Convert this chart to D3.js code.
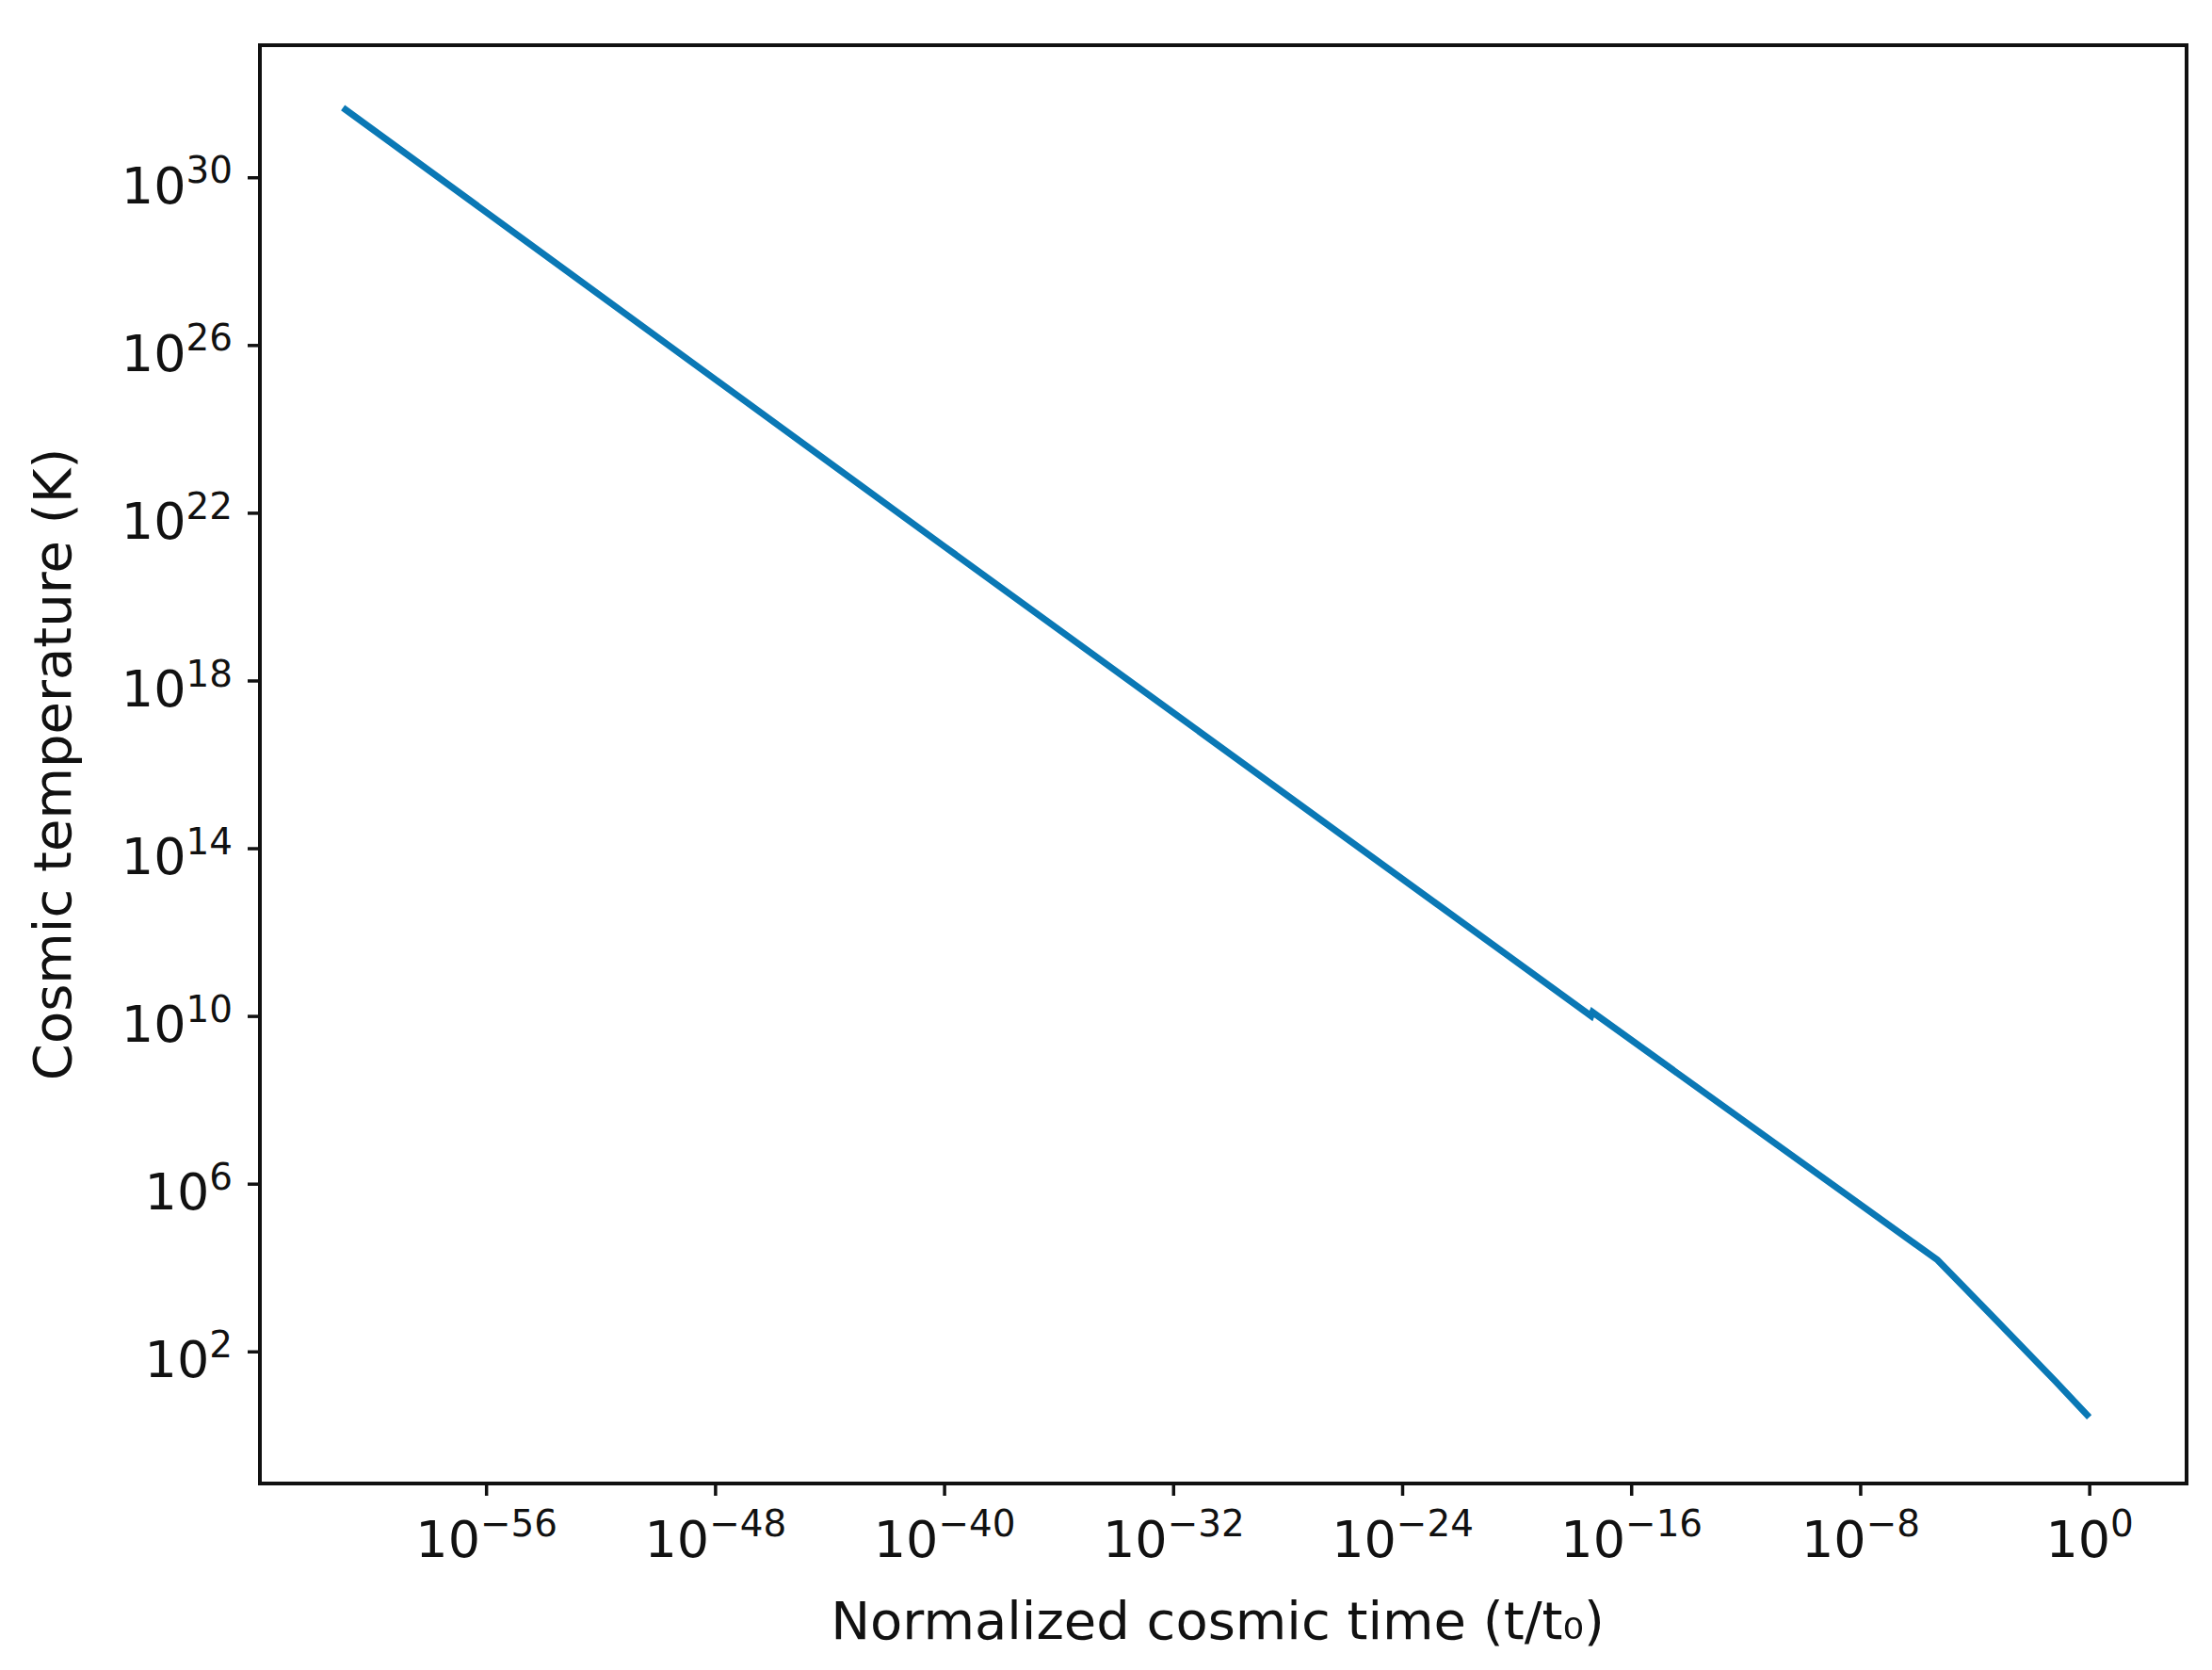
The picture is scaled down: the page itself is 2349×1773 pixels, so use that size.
<!DOCTYPE html><html><head><meta charset="utf-8"><script src="https://cdn.jsdelivr.net/npm/d3@7"></script>
<style>body{margin:0;background:#fff}text{font-family:"DejaVu Sans";fill:#111}</style></head><body><svg id="c" width="2349" height="1773"></svg><script>
const timeExp=[-61.0,-40,-17.4,-17.35,-5.3,-3.5,-1.2,0];
const tempExp=[31.66,21.2,10.0,10.09,4.18,2.92,1.3,0.43];
const xTickExp=[-56,-48,-40,-32,-24,-16,-8,0];
const yTickExp=[2,6,10,14,18,22,26,30];
const L=276,R=2322,T=48,B=1575;
const svg=d3.select("#c");
const x=d3.scaleLog().domain([Math.pow(10,-63.9),Math.pow(10,3.4)]).range([L,R]);
const y=d3.scaleLog().domain([Math.pow(10,-1.15),Math.pow(10,33.15)]).range([B,T]);
const data=timeExp.map((e,i)=>[Math.pow(10,e),Math.pow(10,tempExp[i])]);
svg.append("path").datum(data).attr("fill","none").attr("stroke","#0a78b5").attr("stroke-width",7)
 .attr("d",d3.line().x(d=>x(d[0])).y(d=>y(d[1])));
svg.append("rect").attr("x",L).attr("y",T).attr("width",R-L).attr("height",B-T).attr("fill","none").attr("stroke","#111").attr("stroke-width",4);
function sup(sel,e){sel.text("");sel.append("tspan").text("10");sel.append("tspan").attr("dy","-0.55em").attr("font-size","0.72em").text(e<0?"\u2212"+(-e):e);}
const gx=svg.append("g").attr("transform",`translate(0,${B})`).call(d3.axisBottom(x).tickValues(xTickExp.map(e=>Math.pow(10,e))).tickSize(13).tickPadding(16));
gx.select(".domain").remove();
gx.selectAll("line").attr("stroke","#111").attr("stroke-width",3.5);
gx.selectAll("text").attr("font-size",54).attr("dy","0.9em").each(function(d,i){sup(d3.select(this),xTickExp[i]);});
const gy=svg.append("g").attr("transform",`translate(${L},0)`).call(d3.axisLeft(y).tickValues(yTickExp.map(e=>Math.pow(10,e))).tickSize(13).tickPadding(16));
gy.select(".domain").remove();
gy.selectAll("line").attr("stroke","#111").attr("stroke-width",3.5);
gy.selectAll("text").attr("font-size",54).attr("dy","0.5em").each(function(d,i){sup(d3.select(this),yTickExp[i]);});
svg.append("text").attr("x",1293).attr("y",1740).attr("text-anchor","middle").attr("font-size",56).text("Normalized cosmic time (t/t\u2080)");
svg.append("text").attr("transform",`translate(75,${(T+B)/2}) rotate(-90)`).attr("text-anchor","middle").attr("font-size",56).text("Cosmic temperature (K)");
</script></body></html>
